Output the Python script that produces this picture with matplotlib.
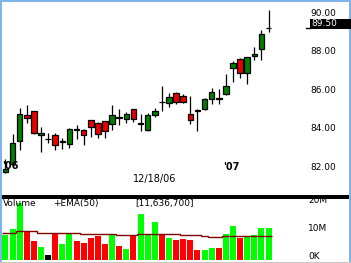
import numpy as np
import matplotlib
matplotlib.use("Agg")
import matplotlib.pyplot as plt
from matplotlib.patches import Rectangle
from matplotlib import transforms

# daily bars, oldest first
opens = [82.01, 82.46, 83.64, 84.97, 85.19, 83.97, 83.74, 83.95, 83.58, 83.48,
         84.28, 84.18, 84.70, 84.59, 84.66, 84.50, 84.86, 84.75, 85.27, 84.54,
         84.22, 84.96, 85.68, 85.63, 86.12, 85.97, 85.02, 85.23, 85.32, 85.79,
         85.89, 86.08, 87.40, 87.90, 87.14, 88.04, 88.42, 89.48]
highs = [82.70, 83.98, 85.37, 85.51, 85.19, 84.35, 84.04, 84.07, 83.81, 84.30,
         84.45, 84.27, 84.72, 84.62, 84.68, 85.52, 85.27, 85.16, 85.32, 85.04,
         85.08, 85.35, 86.48, 86.13, 86.17, 86.05, 85.96, 85.27, 85.89, 86.37,
         86.31, 87.10, 87.81, 87.92, 87.99, 88.50, 89.39, 90.44]
lows = [81.97, 82.34, 83.17, 84.56, 84.00, 83.05, 83.52, 83.17, 83.24, 83.29,
        83.73, 83.40, 83.86, 83.81, 83.81, 84.22, 84.49, 84.57, 84.61, 84.16,
        84.16, 84.87, 85.19, 85.40, 85.56, 85.59, 84.52, 84.16, 85.23, 85.58,
        85.58, 86.01, 86.70, 86.91, 86.58, 87.86, 87.83, 89.31]
closes = [82.20, 83.55, 85.04, 84.83, 84.07, 84.07, 83.74, 83.40, 83.62, 84.28,
          84.18, 83.97, 84.38, 84.02, 84.13, 85.00, 84.84, 85.02, 84.75, 84.56,
          84.96, 85.19, 85.66, 85.91, 85.66, 85.66, 84.71, 85.21, 85.81, 86.20,
          85.79, 86.51, 87.69, 87.14, 87.97, 88.14, 89.18, 89.50]
# volume in millions
volume = [9.0, 11.2, 20.5, 10.4, 6.9, 4.7, 1.8, 9.6, 5.8, 9.6,
          6.9, 6.2, 7.9, 8.8, 5.9, 9.0, 5.1, 4.0, 9.0, 16.6,
          9.5, 13.7, 9.3, 7.8, 7.2, 7.6, 7.2, 3.6, 3.6, 4.3,
          4.3, 9.5, 12.3, 7.9, 8.7, 9.0, 11.6, 11.64]
ema50 = [9.9, 9.9, 10.4, 10.4, 10.4, 9.9, 9.6, 9.6, 9.6, 9.6,
         9.6, 9.4, 9.4, 9.4, 9.4, 9.4, 9.1, 9.1, 9.1, 9.4,
         9.4, 9.4, 9.4, 9.4, 9.4, 9.0, 9.0, 9.0, 8.7, 8.2,
         8.2, 8.6, 8.6, 8.6, 8.6, 8.6, 8.6, 8.6]
last_volume = 11636700

price_ticks = [82, 84, 86, 88, 90]
vol_ticks = [0, 10, 20]
vol_tick_labels = ["0K", "10M", "20M"]
date_labels = ["'06", "12/18/06", "'07"]
date_idx = [0, 21, 31]

W, H = 351, 263
FS = 6.5


def box(x0, y0, x1, y1):
    return [x0 / W, 1 - y1 / H, (x1 - x0) / W, (y1 - y0) / H]


fig = plt.figure(figsize=(W / 100, H / 100), dpi=100)
ax = fig.add_axes(box(2, 2, 305, 195))
axv = fig.add_axes(box(2, 199, 305, 260))

n = len(closes)
x = np.arange(n)
cols = []
for i in x:
    o, c = opens[i], closes[i]
    col = "#008000" if c > o else ("#e80000" if c < o else "black")
    cols.append(col)
    ax.vlines(i, lows[i], highs[i], color="black", lw=0.9, zorder=1)
    ax.add_patch(Rectangle((i - 0.39, min(o, c)), 0.78, abs(c - o),
                           fc=col, ec="black", lw=0.9, zorder=2))

vcols = ["#00ff00" if c == "#008000" else ("#ff0000" if c == "#e80000" else "black") for c in cols]
axv.bar(x, volume, width=0.84, color=vcols)
axv.stairs(ema50, np.arange(n + 1) - 0.5, baseline=None, color="#800000", lw=1)

for a in (ax, axv):
    a.set_xlim(-0.49, 42.12)
    a.set_xticks([])
    a.set_yticks([])
    for s in a.spines.values():
        s.set_visible(False)
ax.set_ylim(80.83, 90.85)
axv.set_ylim(0, 22.0)

# right hand scale labels, drawn a few pixels above their value like the original
up5 = transforms.ScaledTranslation(0, 5 / 100, fig.dpi_scale_trans)
up4 = transforms.ScaledTranslation(0, 3.7 / 100, fig.dpi_scale_trans)
ptr = transforms.blended_transform_factory(fig.transFigure, ax.transData)
vtr = transforms.blended_transform_factory(fig.transFigure, axv.transData)
for v in price_ticks:
    ax.text(310 / W, v, f"{v:.2f}", transform=ptr + up5, ha="left", va="center", fontsize=FS)
for v, lab in zip(vol_ticks, vol_tick_labels):
    axv.text(308 / W, v, lab, transform=vtr + up4, ha="left", va="center", fontsize=FS)

# frame
blue = "#7eb4ea"
fig.add_artist(Rectangle((0, 0), 2 / W, 1, transform=fig.transFigure, fc=blue, ec="none", zorder=11))
fig.add_artist(Rectangle((0, 1 - 2 / H), 1, 2 / H, transform=fig.transFigure, fc=blue, ec="none", zorder=11))
fig.add_artist(Rectangle((349 / W, 0), 2 / W, 1, transform=fig.transFigure, fc=blue, ec="none", zorder=11))
fig.add_artist(Rectangle((0, 0), 1, 1.5 / H, transform=fig.transFigure, fc="#c8c8c8", ec="none", zorder=11))

# last price marker, drawn over the right frame
last = closes[-1]
fig.add_artist(Rectangle((310 / W, last - 0.035), 41 / W, 0.5, transform=ptr,
                         fc="black", ec="none", zorder=12))
fig.text(311 / W, last, f"{last:.2f}", transform=ptr + up5, ha="left", va="center",
         fontsize=FS, color="white", zorder=13)
ax.plot([306 / W, 310 / W], [last, last], transform=ptr, color="black", lw=1, clip_on=False)

# date labels
dtr = transforms.blended_transform_factory(ax.transData, ax.transAxes)
ax.text(date_idx[0] - 0.45, 0.150, date_labels[0], transform=dtr, ha="left", va="center",
        fontsize=7, fontweight="bold")
ax.text(date_idx[1], 0.083, date_labels[1], transform=dtr, ha="center", va="center", fontsize=7)
ax.text(date_idx[2] - 0.45, 0.145, date_labels[2], transform=dtr, ha="left", va="center",
        fontsize=7, fontweight="bold")

# volume pane header
axv.text(0.003, 0.934, "Volume", transform=axv.transAxes, ha="left", va="center", fontsize=FS)
axv.text(0.168, 0.934, "+EMA(50)", transform=axv.transAxes, ha="left", va="center", fontsize=FS)
axv.text(0.439, 0.934, f"[{last_volume:,}]", transform=axv.transAxes, ha="left", va="center", fontsize=FS)

# separator band between the panes
fig.add_artist(Rectangle((2 / W, 1 - 199.3 / H), 347 / W, 4.3 / H, transform=fig.transFigure,
                         fc="black", ec="none", zorder=10))

fig.savefig("out.png", dpi=100)
